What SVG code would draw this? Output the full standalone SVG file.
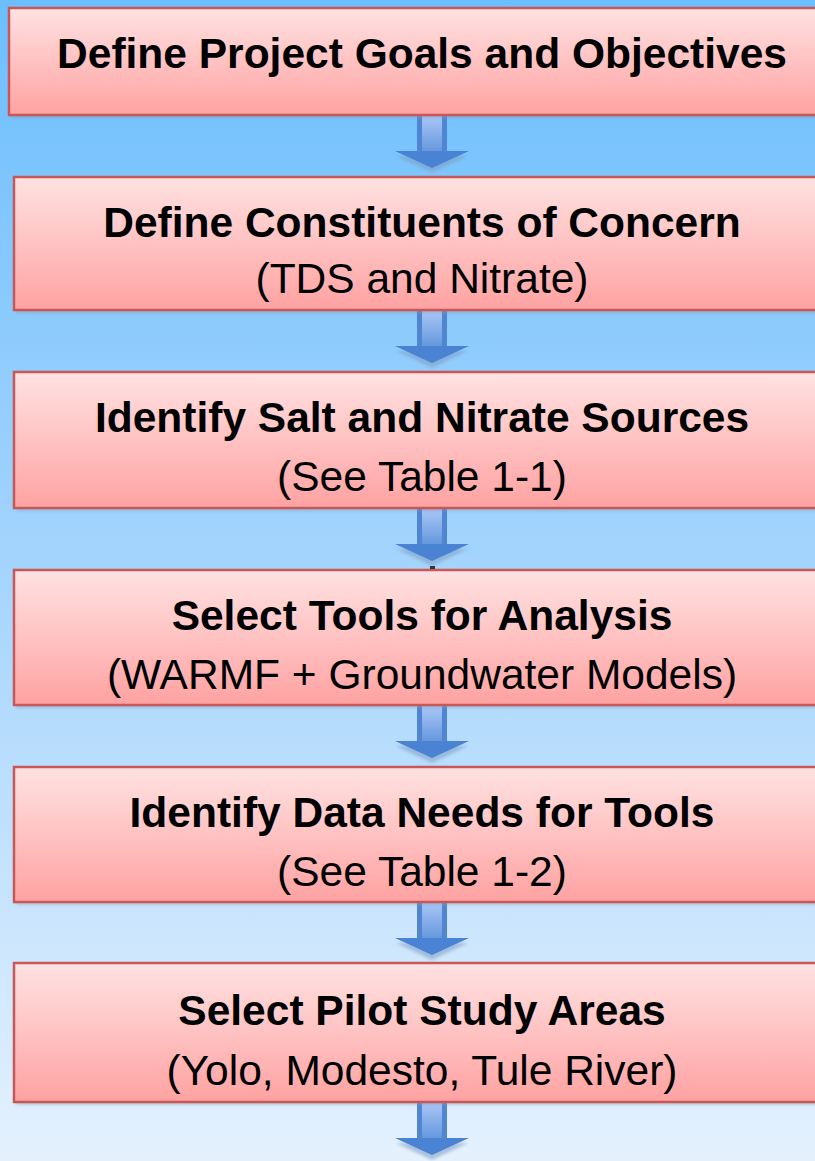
<svg xmlns="http://www.w3.org/2000/svg" width="815" height="1161" viewBox="0 0 815 1161">
<defs>
<linearGradient id="bg" x1="0" y1="0" x2="0" y2="1">
<stop offset="0" stop-color="#6cbefd"/>
<stop offset="0.5" stop-color="#a6d5fd"/>
<stop offset="1" stop-color="#e4f1fd"/>
</linearGradient>
<linearGradient id="boxg" x1="0" y1="0" x2="0" y2="1">
<stop offset="0" stop-color="#ffe2e2"/>
<stop offset="1" stop-color="#ffa2a2"/>
</linearGradient>
<linearGradient id="shaftv" x1="0" y1="0" x2="0" y2="1">
<stop offset="0" stop-color="#abc8f8"/>
<stop offset="1" stop-color="#6496dc"/>
</linearGradient>
<filter id="blur" x="-20%" y="-50%" width="140%" height="200%">
<feGaussianBlur stdDeviation="1.5"/>
</filter>
<filter id="sh" x="-5%" y="-10%" width="110%" height="130%">
<feGaussianBlur stdDeviation="1.5"/>
</filter>
<g id="arrow">
<path d="M-36,41 L36,41 L0,58 Z" fill="#7e9cc0" opacity="0.55" filter="url(#blur)"/>
<rect x="-15" y="0" width="30" height="37" fill="#4f85d2"/>
<rect x="-10" y="0" width="20" height="37" fill="url(#shaftv)"/>
<path d="M-37,36 L37,36 L0,53 Z" fill="#4a82d4"/>
</g>
</defs>
<style>
.box{fill:url(#boxg);stroke:#c85858;stroke-width:2.5}
.shadow{fill:#8a9ab0;opacity:0.45;filter:url(#sh)}
.t{font-family:"Liberation Sans",Arial,sans-serif;font-size:42.5px;fill:#000;text-anchor:middle}
.b{font-weight:bold}
</style>
<rect width="815" height="1161" fill="url(#bg)"/>
<g id="connectors">
<use href="#arrow" x="432" y="115"/>
<use href="#arrow" x="432" y="310"/>
<use href="#arrow" x="432" y="508"/>
<use href="#arrow" x="432" y="705"/>
<use href="#arrow" x="432" y="902"/>
<use href="#arrow" x="432" y="1102"/>
</g>
<g id="n1">
<rect class="shadow" x="11" y="11" width="830" height="107"/>
<rect class="box" x="9" y="8" width="830" height="107"/>
<text class="t b" x="422" y="68">Define Project Goals and Objectives</text>
</g>
<g id="n2">
<rect class="shadow" x="16" y="180" width="820" height="133"/>
<rect class="box" x="14" y="177" width="820" height="133"/>
<text class="t b" x="422" y="237">Define Constituents of Concern</text>
<text class="t" x="422" y="293">(TDS and Nitrate)</text>
</g>
<g id="n3">
<rect class="shadow" x="16" y="375" width="820" height="136"/>
<rect class="box" x="14" y="372" width="820" height="136"/>
<text class="t b" x="422" y="432">Identify Salt and Nitrate Sources</text>
<text class="t" x="422" y="491">(See Table 1-1)</text>
</g>
<g id="n4">
<rect class="shadow" x="16" y="573" width="820" height="135"/>
<rect class="box" x="14" y="570" width="820" height="135"/>
<rect x="430" y="566" width="5" height="3" fill="#333"/>
<text class="t b" x="422" y="630">Select Tools for Analysis</text>
<text class="t" x="422" y="689">(WARMF + Groundwater Models)</text>
</g>
<g id="n5">
<rect class="shadow" x="16" y="770" width="820" height="135"/>
<rect class="box" x="14" y="767" width="820" height="135"/>
<text class="t b" x="422" y="827">Identify Data Needs for Tools</text>
<text class="t" x="422" y="886">(See Table 1-2)</text>
</g>
<g id="n6">
<rect class="shadow" x="16" y="966" width="820" height="139"/>
<rect class="box" x="14" y="963" width="820" height="139"/>
<text class="t b" x="422" y="1025">Select Pilot Study Areas</text>
<text class="t" x="422" y="1085">(Yolo, Modesto, Tule River)</text>
</g>
</svg>
